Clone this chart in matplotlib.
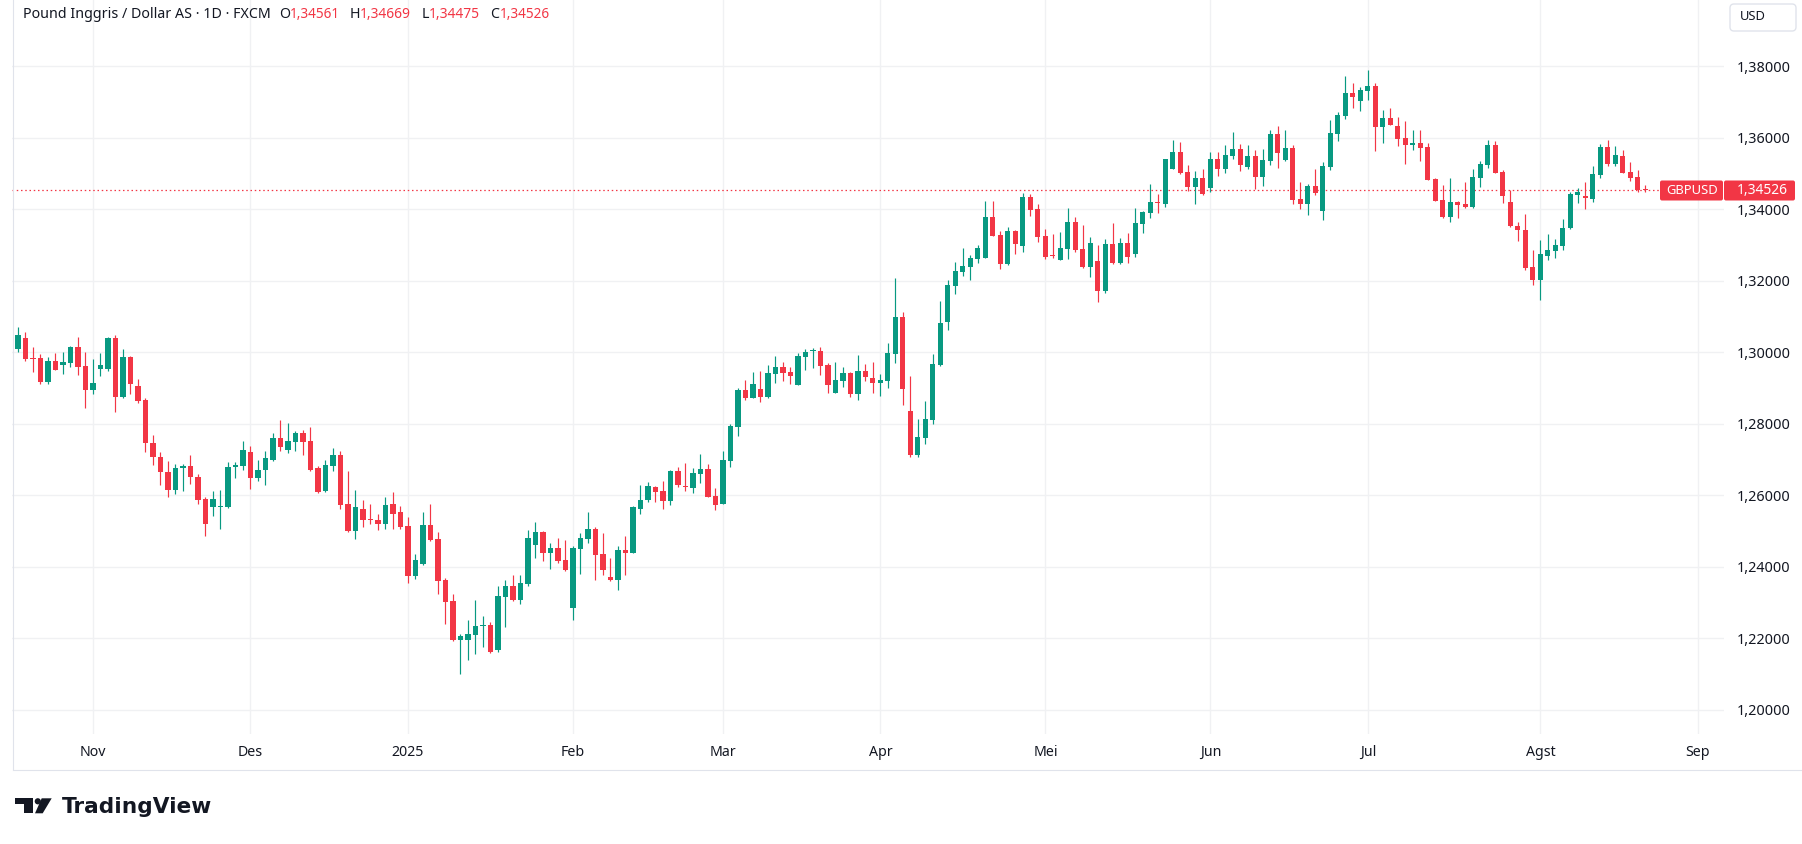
import matplotlib
matplotlib.use("Agg")
import matplotlib.pyplot as plt
from matplotlib.patches import FancyBboxPatch, Polygon, Circle
from matplotlib.ticker import FuncFormatter, FixedLocator
import numpy as np
import pandas as pd

# ---------------- data (GBPUSD daily, FXCM) ----------------
opens = [1.3009, 1.3040, 1.2984, 1.2984, 1.2917, 1.2975, 1.2965, 1.2970, 1.3015, 1.2962,
         1.2895, 1.2953, 1.2953, 1.3040, 1.2876, 1.2987, 1.2906, 1.2867, 1.2747, 1.2707,
         1.2665, 1.2616, 1.2675, 1.2682, 1.2651, 1.2590, 1.2566, 1.2566, 1.2566, 1.2679,
         1.2681, 1.2720, 1.2647, 1.2670, 1.2700, 1.2759, 1.2728, 1.2748, 1.2773, 1.2751,
         1.2675, 1.2611, 1.2681, 1.2712, 1.2575, 1.2499, 1.2561, 1.2533, 1.2530, 1.2519,
         1.2575, 1.2552, 1.2513, 1.2373, 1.2407, 1.2516, 1.2477, 1.2362, 1.2303, 1.2194,
         1.2194, 1.2208, 1.2235, 1.2236, 1.2166, 1.2315, 1.2345, 1.2306, 1.2351, 1.2460,
         1.2496, 1.2438, 1.2452, 1.2418, 1.2284, 1.2449, 1.2477, 1.2505, 1.2435, 1.2371,
         1.2362, 1.2446, 1.2440, 1.2563, 1.2586, 1.2624, 1.2612, 1.2584, 1.2668, 1.2624,
         1.2621, 1.2660, 1.2674, 1.2598, 1.2576, 1.2696, 1.2791, 1.2895, 1.2872, 1.2898,
         1.2875, 1.2939, 1.2959, 1.2945, 1.2909, 1.2987, 1.3003, 1.3004, 1.2965, 1.2886,
         1.2920, 1.2942, 1.2884, 1.2948, 1.2928, 1.2914, 1.2920, 1.2996, 1.3099, 1.2836,
         1.2713, 1.2761, 1.2811, 1.2965, 1.3085, 1.3186, 1.3225, 1.3239, 1.3261, 1.3264,
         1.3379, 1.3328, 1.3247, 1.3339, 1.3298, 1.3435, 1.3401, 1.3325, 1.3270, 1.3258,
         1.3289, 1.3364, 1.3289, 1.3238, 1.3255, 1.3171, 1.3302, 1.3249, 1.3305, 1.3275,
         1.3358, 1.3389, 1.3420, 1.3414, 1.3514, 1.3559, 1.3503, 1.3461, 1.3487, 1.3459,
         1.3542, 1.3512, 1.3548, 1.3568, 1.3517, 1.3548, 1.3489, 1.3534, 1.3612, 1.3538,
         1.3572, 1.3429, 1.3415, 1.3465, 1.3396, 1.3519, 1.3611, 1.3661, 1.3725, 1.3703,
         1.3731, 1.3745, 1.3630, 1.3656, 1.3633, 1.3600, 1.3580, 1.3586, 1.3575, 1.3485,
         1.3426, 1.3379, 1.3421, 1.3415, 1.3407, 1.3488, 1.3524, 1.3580, 1.3504, 1.3421,
         1.3354, 1.3343, 1.3238, 1.3203, 1.3269, 1.3283, 1.3297, 1.3347, 1.3441, 1.3435,
         1.3430, 1.3497, 1.3573, 1.3527, 1.3548, 1.3504, 1.3490, 1.34561]
highs = [1.3072, 1.3057, 1.3015, 1.2995, 1.2987, 1.2998, 1.3001, 1.3018, 1.3043, 1.3001,
         1.2981, 1.2998, 1.3043, 1.3049, 1.3009, 1.2990, 1.2925, 1.2872, 1.2769, 1.2721,
         1.2696, 1.2688, 1.2688, 1.2713, 1.2660, 1.2596, 1.2612, 1.2615, 1.2694, 1.2692,
         1.2751, 1.2737, 1.2700, 1.2723, 1.2773, 1.2812, 1.2801, 1.2779, 1.2784, 1.2790,
         1.2681, 1.2700, 1.2731, 1.2725, 1.2667, 1.2616, 1.2588, 1.2575, 1.2549, 1.2594,
         1.2608, 1.2569, 1.2538, 1.2435, 1.2552, 1.2577, 1.2496, 1.2368, 1.2323, 1.2211,
         1.2250, 1.2306, 1.2262, 1.2245, 1.2345, 1.2362, 1.2376, 1.2376, 1.2502, 1.2524,
         1.2499, 1.2466, 1.2480, 1.2474, 1.2457, 1.2494, 1.2552, 1.2510, 1.2494, 1.2424,
         1.2457, 1.2485, 1.2569, 1.2630, 1.2636, 1.2625, 1.2640, 1.2671, 1.2679, 1.2691,
         1.2677, 1.2716, 1.2688, 1.2621, 1.2724, 1.2800, 1.2900, 1.2923, 1.2945, 1.2948,
         1.2965, 1.2990, 1.2973, 1.2959, 1.2998, 1.3009, 1.3012, 1.3015, 1.2970, 1.2973,
         1.2959, 1.2945, 1.2993, 1.2968, 1.2973, 1.2940, 1.3026, 1.3208, 1.3113, 1.2934,
         1.2814, 1.2864, 1.2996, 1.3144, 1.3202, 1.3253, 1.3292, 1.3272, 1.3300, 1.3423,
         1.3423, 1.3339, 1.3351, 1.3342, 1.3446, 1.3443, 1.3415, 1.3345, 1.3331, 1.3337,
         1.3404, 1.3378, 1.3355, 1.3322, 1.3300, 1.3316, 1.3361, 1.3319, 1.3333, 1.3403,
         1.3395, 1.3470, 1.3442, 1.3541, 1.3593, 1.3587, 1.3523, 1.3506, 1.3512, 1.3559,
         1.3559, 1.3579, 1.3615, 1.3584, 1.3581, 1.3565, 1.3568, 1.3623, 1.3632, 1.3622,
         1.3580, 1.3477, 1.3471, 1.3513, 1.3533, 1.3650, 1.3672, 1.3773, 1.3753, 1.3742,
         1.3790, 1.3753, 1.3678, 1.3684, 1.3658, 1.3647, 1.3622, 1.3622, 1.3586, 1.3488,
         1.3468, 1.3488, 1.3424, 1.3477, 1.3513, 1.3535, 1.3594, 1.3590, 1.3511, 1.3454,
         1.3365, 1.3388, 1.3285, 1.3313, 1.3332, 1.3318, 1.3372, 1.3449, 1.3460, 1.3476,
         1.3522, 1.3584, 1.3595, 1.3576, 1.3565, 1.3532, 1.3509, 1.34669]
lows = [1.3002, 1.2977, 1.2946, 1.2910, 1.2910, 1.2950, 1.2939, 1.2960, 1.2937, 1.2845,
        1.2884, 1.2935, 1.2948, 1.2834, 1.2871, 1.2884, 1.2857, 1.2720, 1.2686, 1.2630,
        1.2596, 1.2605, 1.2613, 1.2633, 1.2577, 1.2487, 1.2543, 1.2507, 1.2565, 1.2647,
        1.2672, 1.2619, 1.2639, 1.2630, 1.2695, 1.2723, 1.2717, 1.2725, 1.2714, 1.2667,
        1.2607, 1.2610, 1.2667, 1.2563, 1.2496, 1.2477, 1.2510, 1.2519, 1.2502, 1.2507,
        1.2507, 1.2507, 1.2354, 1.2365, 1.2406, 1.2473, 1.2323, 1.2239, 1.2192, 1.2099,
        1.2139, 1.2155, 1.2175, 1.2159, 1.2161, 1.2231, 1.2305, 1.2295, 1.2345, 1.2426,
        1.2415, 1.2393, 1.2410, 1.2387, 1.2250, 1.2379, 1.2466, 1.2362, 1.2376, 1.2361,
        1.2334, 1.2376, 1.2438, 1.2549, 1.2580, 1.2582, 1.2562, 1.2573, 1.2624, 1.2612,
        1.2607, 1.2635, 1.2594, 1.2559, 1.2575, 1.2679, 1.2766, 1.2867, 1.2871, 1.2861,
        1.2872, 1.2914, 1.2920, 1.2912, 1.2908, 1.2951, 1.2956, 1.2937, 1.2886, 1.2885,
        1.2903, 1.2875, 1.2867, 1.2920, 1.2887, 1.2878, 1.2901, 1.2970, 1.2853, 1.2708,
        1.2708, 1.2744, 1.2800, 1.2962, 1.3063, 1.3163, 1.3214, 1.3202, 1.3250, 1.3263,
        1.3324, 1.3233, 1.3244, 1.3275, 1.3281, 1.3381, 1.3309, 1.3261, 1.3264, 1.3257,
        1.3261, 1.3280, 1.3235, 1.3210, 1.3141, 1.3166, 1.3248, 1.3248, 1.3249, 1.3266,
        1.3333, 1.3375, 1.3389, 1.3406, 1.3513, 1.3499, 1.3450, 1.3414, 1.3440, 1.3448,
        1.3492, 1.3501, 1.3540, 1.3506, 1.3514, 1.3456, 1.3464, 1.3523, 1.3515, 1.3535,
        1.3415, 1.3401, 1.3384, 1.3440, 1.3370, 1.3510, 1.3591, 1.3653, 1.3684, 1.3675,
        1.3706, 1.3563, 1.3586, 1.3635, 1.3577, 1.3527, 1.3566, 1.3535, 1.3481, 1.3422,
        1.3377, 1.3365, 1.3376, 1.3405, 1.3404, 1.3463, 1.3516, 1.3501, 1.3419, 1.3351,
        1.3311, 1.3230, 1.3189, 1.3145, 1.3258, 1.3264, 1.3286, 1.3346, 1.3419, 1.3402,
        1.3421, 1.3488, 1.3522, 1.3522, 1.3501, 1.3480, 1.3449, 1.34475]
closes = [1.3049, 1.2981, 1.2982, 1.2917, 1.2976, 1.2951, 1.2974, 1.3015, 1.2960, 1.2895,
          1.2914, 1.2965, 1.3040, 1.2876, 1.2987, 1.2912, 1.2865, 1.2745, 1.2706, 1.2664,
          1.2616, 1.2677, 1.2682, 1.2650, 1.2588, 1.2521, 1.2590, 1.2568, 1.2680, 1.2684,
          1.2728, 1.2647, 1.2672, 1.2703, 1.2759, 1.2734, 1.2751, 1.2773, 1.2748, 1.2672,
          1.2608, 1.2684, 1.2712, 1.2572, 1.2499, 1.2566, 1.2530, 1.2532, 1.2519, 1.2572,
          1.2549, 1.2510, 1.2373, 1.2418, 1.2516, 1.2474, 1.2359, 1.2301, 1.2194, 1.2206,
          1.2211, 1.2234, 1.2236, 1.2161, 1.2317, 1.2345, 1.2306, 1.2354, 1.2480, 1.2496,
          1.2438, 1.2452, 1.2415, 1.2390, 1.2452, 1.2480, 1.2505, 1.2432, 1.2390, 1.2362,
          1.2446, 1.2440, 1.2566, 1.2586, 1.2625, 1.2610, 1.2584, 1.2668, 1.2629, 1.2623,
          1.2663, 1.2674, 1.2596, 1.2573, 1.2699, 1.2794, 1.2895, 1.2872, 1.2912, 1.2875,
          1.2942, 1.2959, 1.2942, 1.2934, 1.2990, 1.3001, 1.3005, 1.2962, 1.2909, 1.2923,
          1.2942, 1.2884, 1.2948, 1.2931, 1.2914, 1.2923, 1.2998, 1.3099, 1.2898, 1.2713,
          1.2763, 1.2814, 1.2968, 1.3082, 1.3188, 1.3228, 1.3242, 1.3264, 1.3292, 1.3379,
          1.3325, 1.3247, 1.3339, 1.3303, 1.3435, 1.3398, 1.3323, 1.3267, 1.3268, 1.3292,
          1.3365, 1.3286, 1.3238, 1.3305, 1.3171, 1.3302, 1.3249, 1.3305, 1.3266, 1.3361,
          1.3392, 1.3420, 1.3418, 1.3540, 1.3559, 1.3501, 1.3461, 1.3487, 1.3442, 1.3542,
          1.3512, 1.3551, 1.3568, 1.3523, 1.3548, 1.3489, 1.3537, 1.3612, 1.3557, 1.3572,
          1.3426, 1.3415, 1.3465, 1.3446, 1.3521, 1.3614, 1.3664, 1.3725, 1.3714, 1.3734,
          1.3745, 1.3630, 1.3656, 1.3636, 1.3597, 1.3580, 1.3586, 1.3572, 1.3482, 1.3424,
          1.3379, 1.3421, 1.3412, 1.3407, 1.3491, 1.3527, 1.3580, 1.3502, 1.3436, 1.3352,
          1.3341, 1.3236, 1.3203, 1.3274, 1.3285, 1.3299, 1.3349, 1.3443, 1.3449, 1.3433,
          1.3498, 1.3573, 1.3527, 1.3551, 1.3502, 1.3487, 1.3454, 1.34526]
rising = [c >= o for o, c in zip(opens, closes)]

month_labels = ["Nov", "Des", "2025", "Feb", "Mar", "Apr", "Mei", "Jun", "Jul", "Agst", "Sep"]
price_ticks = [1.20, 1.22, 1.24, 1.26, 1.28, 1.30, 1.32, 1.34, 1.36, 1.38]
last_price = 1.34526
symbol = "GBPUSD"
title_main = "Pound Inggris / Dollar AS \u00b7 1D \u00b7 FXCM"
ohlc_last = [("O", "1,34561"), ("H", "1,34669"), ("L", "1,34475"), ("C", "1,34526")]

# trading calendar (weekdays, without 25 Dec and 1 Jan), extended to show September
cal = pd.bdate_range("2024-10-18", "2025-09-10")
cal = cal[~cal.isin(pd.to_datetime(["2024-12-25", "2025-01-01"]))]
n = len(opens)
month_first = [i for i in range(1, len(cal)) if cal[i].month != cal[i - 1].month]

# ---------------- styling ----------------
GREEN = "#089981"
RED = "#f23645"
TXT = "#131722"
GRID = "#f0f1f3"
W, H = 1802, 844
plt.rcParams["font.family"] = ["Noto Sans", "DejaVu Sans"]

fig = plt.figure(figsize=(W / 100, H / 100), dpi=100)
fig.patch.set_facecolor("white")

# main price pane: x 12..1724 px, y 0..734 px
L, R, T, B = 12, 1724, 0, 734
ax = fig.add_axes([L / W, 1 - B / H, (R - L) / W, (B - T) / H])
ax.set_facecolor("white")
for s in ax.spines.values():
    s.set_visible(False)

x = np.arange(n)
o = np.array(opens); h = np.array(highs); l = np.array(lows); c = np.array(closes)
cols = [GREEN if r else RED for r in rising]
ax.vlines(x, l, h, colors=cols, linewidth=0.85, zorder=3)
body_lo = np.minimum(o, c)
body_h = np.maximum(np.abs(c - o), 0.00030)
ax.bar(x, body_h, bottom=body_lo, width=0.67, color=cols, linewidth=0, zorder=4)

ax.set_xlim(-0.8, 227.47)
ax.set_ylim(1.193231, 1.398545)

ax.xaxis.set_major_locator(FixedLocator(month_first))
ax.set_xticklabels(month_labels)
ax.yaxis.tick_right()
ax.yaxis.set_major_locator(FixedLocator(price_ticks))
ax.yaxis.set_major_formatter(FuncFormatter(lambda v, p: f"{v:.5f}".replace(".", ",")))
ax.tick_params(axis="both", length=0, colors=TXT)
ax.tick_params(axis="y", pad=9.2, labelsize=10.4)
ax.tick_params(axis="x", pad=8, labelsize=10.2)
for lab in ax.get_xticklabels():
    if lab.get_text() == "2025":
        lab.set_fontweight("bold")
ax.grid(True, color=GRID, linewidth=1.0, zorder=0)
ax.set_axisbelow(True)

# last price dotted line
ax.axhline(last_price, color=RED, linewidth=0.9, linestyle=(0, (1.2, 2.2)), zorder=2)

# ---------------- overlay in pixel coordinates ----------------
ov = fig.add_axes([0, 0, 1, 1], zorder=10)
ov.set_xlim(0, W); ov.set_ylim(H, 0); ov.axis("off"); ov.patch.set_alpha(0)

renderer = fig.canvas.get_renderer()

def fit_text(x0, x1, y, s, size=10, va="center", **kw):
    t = ov.text(x0, y, s, fontsize=size, ha="left", va=va, **kw)
    wpx = t.get_window_extent(renderer).width
    t.set_fontsize(size * (x1 - x0) / wpx)
    return t

# pane borders
ov.plot([12.5, 12.5], [0, 769], color="#e0e3eb", lw=0.8)
ov.plot([12.5, W], [769.5, 769.5], color="#e0e3eb", lw=0.8)

# header legend
fit_text(23, 270, 15, title_main, color=TXT)
pos = [(279, 290, 340), (350, 360, 411), (422, 429, 480), (490, 500, 550)]
for (lbl, val), (xl, xv0, xv1) in zip(ohlc_last, pos):
    ov.text(xl, 15, lbl, fontsize=10.2, ha="left", va="center", color=TXT)
    fit_text(xv0, xv1, 15, val, color=RED)

# USD button
ov.add_patch(FancyBboxPatch((1730, 4), 66, 27, boxstyle="round,pad=0,rounding_size=4",
                            facecolor="white", edgecolor="#e0e3eb", linewidth=1))
fit_text(1740, 1766, 17, "USD", color=TXT)

# last price labels
ov.add_patch(FancyBboxPatch((1660, 180.5), 63, 20, boxstyle="round,pad=0,rounding_size=2",
                            facecolor=RED, edgecolor="none"))
ov.add_patch(FancyBboxPatch((1724, 180.5), 71, 20, boxstyle="round,pad=0,rounding_size=2",
                            facecolor=RED, edgecolor="none"))
fit_text(1666, 1718, 190.5, symbol, color="white")
fit_text(1737, 1788, 190.5, f"{last_price:.5f}".replace(".", ","), color="white")

# TradingView logo
ov.add_patch(Polygon([(15, 798.3), (33.3, 798.3), (33.3, 813.3), (24.3, 813.3), (24.3, 804), (15, 804)],
                     closed=True, facecolor=TXT, edgecolor="none"))
ov.add_patch(Circle((37.8, 801.3), 3.1, facecolor=TXT, edgecolor="none"))
ov.add_patch(Polygon([(41.7, 798.3), (51.7, 798.3), (42.7, 813.3), (35, 813.3)],
                     closed=True, facecolor=TXT, edgecolor="none"))
fit_text(62, 212, 813, "TradingView", va="baseline", color=TXT,
         family=["DejaVu Sans"], fontweight="bold")

fig.savefig("out.png", dpi=100, facecolor="white")
